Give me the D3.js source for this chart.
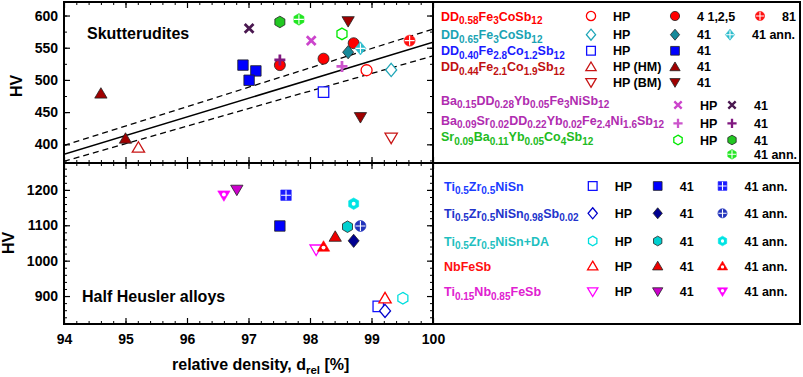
<!DOCTYPE html>
<html>
<head>
<meta charset="utf-8">
<script src="https://cdn.jsdelivr.net/npm/d3@7"></script>
<style>
  body { margin: 0; background: #fff; }
  text { font-family: "Liberation Sans", Arial, sans-serif; font-weight: bold; }
</style>
</head>
<body>
<svg id="chart" width="803" height="377"></svg>
<script>
'use strict';

// axis ticks
var xTicks = [94, 95, 96, 97, 98, 99, 100];
var yTopTicks = [400, 450, 500, 550, 600];
var yBotTicks = [900, 1000, 1100, 1200];

// skutterudites: [relative density %, HV]
var dd058HP = [[98.92, 515]];
var dd058Lit = [[98.71, 557], [98.22, 533], [97.51, 523]];
var dd058Ref81 = [[99.62, 561]];
var dd065HP = [[99.32, 515.5]];
var dd065Lit = [[98.62, 543]];
var dd065Ann = [[98.82, 549]];
var dd040HP = [[98.22, 481]];
var dd040Lit = [[96.91, 523], [97.12, 514], [97.01, 499.5]];
var dd044HpHM = [[95.21, 395]];
var dd044LitHM = [[94.60, 479], [95.00, 409]];
var dd044HpBM = [[99.32, 410]];
var dd044LitBM = [[98.62, 591], [98.82, 442]];
var ba015HP = [[98.02, 561]];
var ba015Lit = [[97.01, 580]];
var ba009HP = [[98.52, 521]];
var ba009Lit = [[97.51, 531]];
var sr009HP = [[98.52, 571.5]];
var sr009Lit = [[97.51, 590]];
var sr009Ann = [[97.82, 594]];

// linear fit and band (values at d = 94 and d = 100)
var fitLine = [[94, 384.5], [100, 558.5]];
var bandUpper = [[94, 398.4], [100, 578.8]];
var bandLower = [[94, 373.6], [100, 537.3]];

// half Heusler alloys: [relative density %, HV]
var tzHP = [[99.11, 871]];
var tzLit = [[97.51, 1098]];
var tzAnn = [[97.61, 1185]];
var tzsHP = [[99.22, 858]];
var tzsLit = [[98.71, 1056]];
var tzsAnn = [[98.82, 1098]];
var daHP = [[99.51, 894]];
var daLit = [[98.61, 1096]];
var daAnn = [[98.71, 1161]];
var nbHP = [[99.22, 894]];
var nbLit = [[98.41, 1068]];
var nbAnn = [[98.22, 1040]];
var tinbHP = [[98.10, 1031]];
var tinbLit = [[96.81, 1200]];
var tinbAnn = [[96.60, 1184]];

// marker styles
var st = {
    dd058HP: {shape: 'circle', mode: 'open', color: '#ff0000'},
    dd058Lit: {shape: 'circle', mode: 'filled', color: '#ff0000'},
    dd058Ref81: {shape: 'circle', mode: 'cross', color: '#ff1010'},
    dd065HP: {shape: 'diamond', mode: 'open', color: '#1fa6b8'},
    dd065Lit: {shape: 'diamond', mode: 'filled', color: '#178a9a'},
    dd065Ann: {shape: 'diamond', mode: 'cross', color: '#2cbccc'},
    dd040HP: {shape: 'square', mode: 'open', color: '#1010ff'},
    dd040Lit: {shape: 'square', mode: 'filled', color: '#0000ff'},
    dd044HpHM: {shape: 'triUp', mode: 'open', color: '#c81414'},
    dd044LitHM: {shape: 'triUp', mode: 'filled', color: '#a00000'},
    dd044HpBM: {shape: 'triDown', mode: 'open', color: '#c81414'},
    dd044LitBM: {shape: 'triDown', mode: 'filled', color: '#a00000'},
    ba015HP: {shape: 'x', mode: 'stroke', color: '#cc44cc'},
    ba015Lit: {shape: 'x', mode: 'stroke', color: '#4a1850'},
    ba009HP: {shape: 'plus', mode: 'stroke', color: '#cc55cc'},
    ba009Lit: {shape: 'plus', mode: 'stroke', color: '#801880'},
    sr009HP: {shape: 'hex', mode: 'open', color: '#00e800'},
    sr009Lit: {shape: 'hex', mode: 'filled', color: '#22c822'},
    sr009Ann: {shape: 'hex', mode: 'cross', color: '#22e622'},
    tzHP: {shape: 'square', mode: 'open', color: '#1010ff'},
    tzLit: {shape: 'square', mode: 'filled', color: '#0000ff'},
    tzAnn: {shape: 'square', mode: 'cross', color: '#1a1aff'},
    tzsHP: {shape: 'diamond', mode: 'open', color: '#0000cc'},
    tzsLit: {shape: 'diamond', mode: 'filled', color: '#000090'},
    tzsAnn: {shape: 'circle', mode: 'cross', color: '#2233bb'},
    daHP: {shape: 'hex', mode: 'open', color: '#00dede'},
    daLit: {shape: 'hex', mode: 'filled', color: '#00d0d0'},
    daAnn: {shape: 'hex', mode: 'dot', color: '#00e4e4'},
    nbHP: {shape: 'triUp', mode: 'open', color: '#ff0000'},
    nbLit: {shape: 'triUp', mode: 'filled', color: '#ee0000'},
    nbAnn: {shape: 'triUp', mode: 'dot', color: '#ff0000'},
    tinbHP: {shape: 'triDown', mode: 'open', color: '#ff00ff'},
    tinbLit: {shape: 'triDown', mode: 'filled', color: '#cc00cc'},
    tinbAnn: {shape: 'triDown', mode: 'dot', color: '#ff00ff'}
};

var skutSeries = [
    [dd044LitHM, st.dd044LitHM], [dd044HpHM, st.dd044HpHM], [dd044HpBM, st.dd044HpBM], [dd044LitBM, st.dd044LitBM],
    [dd040HP, st.dd040HP], [dd040Lit, st.dd040Lit],
    [ba015HP, st.ba015HP], [ba015Lit, st.ba015Lit],
    [sr009HP, st.sr009HP], [sr009Lit, st.sr009Lit], [sr009Ann, st.sr009Ann],
    [dd058HP, st.dd058HP], [dd058Lit, st.dd058Lit], [dd058Ref81, st.dd058Ref81],
    [ba009HP, st.ba009HP], [ba009Lit, st.ba009Lit],
    [dd065HP, st.dd065HP], [dd065Lit, st.dd065Lit], [dd065Ann, st.dd065Ann]
];
var hhSeries = [
    [tinbHP, st.tinbHP], [tinbLit, st.tinbLit], [tinbAnn, st.tinbAnn],
    [tzHP, st.tzHP], [tzLit, st.tzLit], [tzAnn, st.tzAnn],
    [tzsHP, st.tzsHP], [tzsLit, st.tzsLit], [tzsAnn, st.tzsAnn],
    [daHP, st.daHP], [daLit, st.daLit], [daAnn, st.daAnn],
    [nbHP, st.nbHP], [nbLit, st.nbLit], [nbAnn, st.nbAnn]
];

// legend text
var legendTop = [
    {f: 'DD_{0.58}Fe_{3}CoSb_{12}', c: '#ff0000', items: [['dd058HP', 'HP'], ['dd058Lit', '4 1,2,5'], ['dd058Ref81', '81']]},
    {f: 'DD_{0.65}Fe_{3}CoSb_{12}', c: '#1aa3b3', items: [['dd065HP', 'HP'], ['dd065Lit', '41'], ['dd065Ann', '41 ann.']]},
    {f: 'DD_{0.40}Fe_{2.8}Co_{1.2}Sb_{12}', c: '#1a1aff', items: [['dd040HP', 'HP'], ['dd040Lit', '41']]},
    {f: 'DD_{0.44}Fe_{2.1}Co_{1.9}Sb_{12}', c: '#c01010', items: [['dd044HpHM', 'HP (HM)'], ['dd044LitHM', '41']]},
    {f: '', c: '#c01010', items: [['dd044HpBM', 'HP (BM)'], ['dd044LitBM', '41']]},
    {f: 'Ba_{0.15}DD_{0.28}Yb_{0.05}Fe_{3}NiSb_{12}', c: '#b02cb0', items: [['ba015HP', 'HP'], ['ba015Lit', '41']]},
    {f: 'Ba_{0.09}Sr_{0.02}DD_{0.22}Yb_{0.02}Fe_{2.4}Ni_{1.6}Sb_{12}', c: '#b02cb0', items: [['ba009HP', 'HP'], ['ba009Lit', '41']]},
    {f: 'Sr_{0.09}Ba_{0.11}Yb_{0.05}Co_{4}Sb_{12}', c: '#22bb22', items: [['sr009HP', 'HP'], ['sr009Lit', '41']]},
    {f: '', c: '#22bb22', items: [['sr009Ann', '41 ann.']]}
];
var legendBot = [
    {f: 'Ti_{0.5}Zr_{0.5}NiSn', c: '#1a3cff', items: [['tzHP', 'HP'], ['tzLit', '41'], ['tzAnn', '41 ann.']]},
    {f: 'Ti_{0.5}Zr_{0.5}NiSn_{0.98}Sb_{0.02}', c: '#2233cc', items: [['tzsHP', 'HP'], ['tzsLit', '41'], ['tzsAnn', '41 ann.']]},
    {f: 'Ti_{0.5}Zr_{0.5}NiSn+DA', c: '#1fbfbf', items: [['daHP', 'HP'], ['daLit', '41'], ['daAnn', '41 ann.']]},
    {f: 'NbFeSb', c: '#ff1010', items: [['nbHP', 'HP'], ['nbLit', '41'], ['nbAnn', '41 ann.']]},
    {f: 'Ti_{0.15}Nb_{0.85}FeSb', c: '#e020d0', items: [['tinbHP', 'HP'], ['tinbLit', '41'], ['tinbAnn', '41 ann.']]}
];

// ---- layout ----
var L = 64, R = 433, T = 2, M = 163, B = 324, BOXR = 800;
var svg = d3.select('#chart');

var x = d3.scaleLinear().domain([94, 100]).range([L, R]);
var yTop = d3.scaleLinear().domain([371, 621]).range([M, T]);
var yBot = d3.scaleLinear().domain([821, 1276]).range([B, M]);

function shapePath(shape, r) {
    var k;
    if (shape === 'circle') return d3.symbol(d3.symbolCircle, Math.PI * r * r)();
    if (shape === 'square') { k = r * 0.95; return 'M' + -k + ',' + -k + 'H' + k + 'V' + k + 'H' + -k + 'Z'; }
    if (shape === 'diamond') return 'M0,' + (-r * 1.2) + 'L' + r + ',0L0,' + (r * 1.2) + 'L' + -r + ',0Z';
    if (shape === 'triUp') return 'M0,' + (-r * 1.05) + 'L' + (r * 1.12) + ',' + (r * 0.85) + 'L' + (-r * 1.12) + ',' + (r * 0.85) + 'Z';
    if (shape === 'triDown') return 'M0,' + (r * 1.05) + 'L' + (r * 1.12) + ',' + (-r * 0.85) + 'L' + (-r * 1.12) + ',' + (-r * 0.85) + 'Z';
    if (shape === 'hex') {
        return d3.range(6).map(function (i) {
            var a = Math.PI / 3 * i - Math.PI / 2;
            return (i ? 'L' : 'M') + (r * 1.05 * Math.cos(a)).toFixed(2) + ',' + (r * 1.05 * Math.sin(a)).toFixed(2);
        }).join('') + 'Z';
    }
    if (shape === 'x') { k = r * 0.8; return 'M' + -k + ',' + -k + 'L' + k + ',' + k + 'M' + k + ',' + -k + 'L' + -k + ',' + k; }
    if (shape === 'plus') return 'M' + -r + ',0H' + r + 'M0,' + -r + 'V' + r;
}

function drawMarker(g, px, py, s, r) {
    var m = g.append('g').attr('transform', 'translate(' + px + ',' + py + ')');
    var p = m.append('path').attr('d', shapePath(s.shape, r));
    if (s.mode === 'stroke') {
        p.attr('fill', 'none').attr('stroke', s.color).attr('stroke-width', r * 0.5);
    } else if (s.mode === 'open') {
        p.attr('fill', '#fff').attr('stroke', s.color).attr('stroke-width', 1.3);
    } else if (s.mode === 'filled') {
        p.attr('fill', s.color).attr('stroke', '#222').attr('stroke-width', 0.8);
    } else {
        p.attr('fill', s.color).attr('stroke', s.color).attr('stroke-width', 0.6);
        if (s.mode === 'cross') {
            var k = r * 0.9;
            m.append('path').attr('d', 'M' + -k + ',0H' + k + 'M0,' + -k + 'V' + k)
                .attr('stroke', '#fff').attr('stroke-width', 1.1);
        } else {
            var cy = s.shape === 'triUp' ? r * 0.2 : (s.shape === 'triDown' ? -r * 0.2 : 0);
            m.append('circle').attr('cy', cy).attr('r', r * 0.36).attr('fill', '#fff');
        }
    }
}

// formula text with subscripts, e.g. 'DD_{0.58}Fe_{3}'
function formula(g, tx, ty, str, color) {
    var t = g.append('text').attr('x', tx).attr('y', ty).attr('fill', color).style('font-size', '12.5px');
    var parts = str.split(/_\{([^}]*)\}/);
    parts.forEach(function (p, i) {
        if (!p) return;
        var sub = i % 2 === 1;
        t.append('tspan').text(p)
            .attr('dy', sub ? 3.5 : (i > 0 ? -3.5 : 0))
            .style('font-size', sub ? '10px' : '12.5px');
    });
}

// ---- axes ----
function axis(gen, scale, major, minor, tr, labelled, pad) {
    var g = svg.append('g').attr('transform', tr);
    g.call(gen(scale).tickValues(minor).tickSize(-3).tickFormat(''));
    var g2 = svg.append('g').attr('transform', tr);
    g2.call(gen(scale).tickValues(major).tickSize(-6).tickPadding(pad || 6)
        .tickFormat(labelled ? d3.format('d') : ''));
    svg.selectAll('.domain').remove();
    g.selectAll('line').attr('stroke', '#000').attr('stroke-width', 1);
    g2.selectAll('line').attr('stroke', '#000').attr('stroke-width', 1.2);
    g2.selectAll('text').attr('fill', '#000').style('font-size', '14px')
        .style('font-family', '"Liberation Sans", Arial, sans-serif').style('font-weight', 'bold');
}

var xMinor = d3.range(0, 31).map(function (i) { return 94 + i * 0.2; });
var yTopMinor = d3.range(375, 621, 25);
var yBotMinor = d3.range(840, 1276, 20);

axis(d3.axisTop, x, xTicks, xMinor, 'translate(0,' + T + ')', false);
axis(d3.axisBottom, x, xTicks, xMinor, 'translate(0,' + M + ')', false);
axis(d3.axisTop, x, xTicks, xMinor, 'translate(0,' + M + ')', false);
axis(d3.axisBottom, x, xTicks, xMinor, 'translate(0,' + B + ')', true, 10);
axis(d3.axisLeft, yTop, yTopTicks, yTopMinor, 'translate(' + L + ',0)', true);
axis(d3.axisRight, yTop, yTopTicks, yTopMinor, 'translate(' + R + ',0)', false);
axis(d3.axisLeft, yBot, yBotTicks, yBotMinor, 'translate(' + L + ',0)', true);
axis(d3.axisRight, yBot, yBotTicks, yBotMinor, 'translate(' + R + ',0)', false);

// ---- fit lines ----
svg.append('clipPath').attr('id', 'clipTop').append('rect')
    .attr('x', L).attr('y', T).attr('width', R - L).attr('height', M - T);
var line = d3.line().x(function (d) { return x(d[0]); }).y(function (d) { return yTop(d[1]); });
var fits = svg.append('g').attr('clip-path', 'url(#clipTop)').attr('fill', 'none').attr('stroke', '#000');
fits.append('path').attr('d', line(fitLine)).attr('stroke-width', 1.5);
fits.append('path').attr('d', line(bandUpper)).attr('stroke-width', 1.3).attr('stroke-dasharray', '6,4');
fits.append('path').attr('d', line(bandLower)).attr('stroke-width', 1.3).attr('stroke-dasharray', '6,4');

// ---- points ----
var pts = svg.append('g');
skutSeries.forEach(function (s) {
    s[0].forEach(function (d) { drawMarker(pts, x(d[0]), yTop(d[1]), s[1], 5.5); });
});
hhSeries.forEach(function (s) {
    s[0].forEach(function (d) { drawMarker(pts, x(d[0]), yBot(d[1]), s[1], 5.5); });
});

// ---- frame ----
var frame = svg.append('g').attr('stroke', '#000').attr('stroke-width', 2).attr('fill', 'none');
frame.append('rect').attr('x', L).attr('y', T).attr('width', BOXR - L).attr('height', B - T);
frame.append('line').attr('x1', R).attr('x2', R).attr('y1', T).attr('y2', B);
frame.append('line').attr('x1', L).attr('x2', BOXR).attr('y1', M).attr('y2', M);

// ---- titles ----
svg.append('text').attr('x', 87).attr('y', 39).style('font-size', '16px').text('Skutterudites');
svg.append('text').attr('x', 82).attr('y', 301.5).style('font-size', '16px').text('Half Heusler alloys');
svg.append('text').attr('transform', 'translate(21.5,86) rotate(-90)').attr('text-anchor', 'middle')
    .style('font-size', '16px').text('HV');
svg.append('text').attr('transform', 'translate(14,243) rotate(-90)').attr('text-anchor', 'middle')
    .style('font-size', '16px').text('HV');
var xt = svg.append('text').attr('x', 172).attr('y', 370).style('font-size', '16px');
xt.append('tspan').text('relative density, d');
xt.append('tspan').text('rel').attr('dy', 3.5).style('font-size', '11.5px');
xt.append('tspan').text(' [%]').attr('dy', -3.5);

// ---- legend ----
var lg = svg.append('g');
function legendRow(row, fx, fy, my, cols) {
    if (row.f) formula(lg, fx, fy + 4.5, row.f, row.c);
    row.items.forEach(function (it, i) {
        var cx = cols[i];
        drawMarker(lg, cx, my, st[it[0]], 4.6);
        lg.append('text').attr('x', cx + 22).attr('y', my + 4.5).style('font-size', '12.5px').text(it[1]);
    });
}
var topRowY = [16, 34.7, 50.8, 66.8, 82.5];
legendRow(legendTop[0], 441, topRowY[0], topRowY[0], [591, 675, 760]);
legendRow(legendTop[1], 441, topRowY[1], topRowY[1], [591, 675, 730]);
legendRow(legendTop[2], 441, topRowY[2], topRowY[2], [591, 675]);
legendRow(legendTop[3], 441, topRowY[3], topRowY[3], [591, 675]);
legendRow(legendTop[4], 441, topRowY[4], topRowY[4], [591, 675]);
legendRow(legendTop[5], 441, 100, 105, [678, 732]);
legendRow(legendTop[6], 441, 120, 123.3, [678, 732]);
legendRow(legendTop[7], 441, 136.7, 140, [678, 732]);
legendRow(legendTop[8], 441, 154.3, 154.3, [732]);

var botRowY = [186, 213.3, 241, 266, 291.7];
legendBot.forEach(function (row, i) {
    legendRow(row, 444, botRowY[i], botRowY[i], [592.7, 657.7, 722.5]);
});
</script>
</body>
</html>
